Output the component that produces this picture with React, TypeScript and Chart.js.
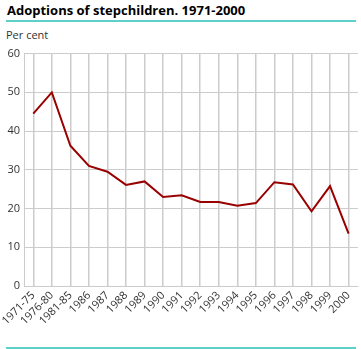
import React, { useEffect, useRef } from "react";
import { Chart, registerables } from "chart.js";

Chart.register(...registerables);

const categories = ["1971-75","1976-80","1981-85","1986","1987","1988","1989","1990","1991","1992","1993","1994","1995","1996","1997","1998","1999","2000"];
const adoptions = [44.5, 50, 36.2, 31, 29.5, 26.1, 27, 23, 23.4, 21.7, 21.7, 20.7, 21.4, 26.8, 26.2, 19.3, 25.8, 13.5];
const yTicks = [0, 10, 20, 30, 40, 50, 60];

const FONT = "'Open Sans', 'DejaVu Sans', sans-serif";

export default function App() {
  const ref = useRef<HTMLCanvasElement>(null);
  useEffect(() => {
    document.body.style.margin = "0";
    const chart = new Chart(ref.current!, {
      type: "line",
      data: {
        labels: categories,
        datasets: [{
          data: adoptions,
          borderColor: "#990000",
          borderWidth: 2,
          pointRadius: 0,
          tension: 0,
          fill: false,
        }],
      },
      options: {
        responsive: false,
        animation: false,
        layout: { padding: { left: 0, right: 3, top: 2, bottom: 0 } },
        plugins: { legend: { display: false }, tooltip: { enabled: false }, title: { display: false } },
        scales: {
          x: {
            offset: true,
            grid: { offset: false, color: "#cccccc", lineWidth: 1.5, drawTicks: false },
            border: { color: "#cccccc", width: 1 },
            ticks: {
              color: "#333333",
              font: { family: FONT, size: 11 },
              maxRotation: 45,
              minRotation: 45,
              autoSkip: false,
              padding: 3,
            },
            afterFit: (s: any) => { s.height = 54; },
          },
          y: {
            min: 0,
            max: 60,
            afterBuildTicks: (s: any) => { s.ticks = yTicks.map((v) => ({ value: v })); },
            grid: { color: "#cccccc", lineWidth: 1, drawTicks: false },
            border: { color: "#cccccc", width: 1 },
            ticks: { color: "#333333", font: { family: FONT, size: 11 }, padding: 4 },
            afterFit: (s: any) => { s.width = 24; },
          },
        },
      },
    });
    return () => chart.destroy();
  }, []);
  return (
    <div style={{ position: "relative", width: 361, height: 349, background: "#fff", overflow: "hidden" }}>
      <div style={{ position: "absolute", left: 7, top: 1, fontFamily: FONT, fontWeight: 700, fontSize: 13, color: "#000", whiteSpace: "nowrap" }}>
        Adoptions of stepchildren. 1971-2000
      </div>
      <div style={{ position: "absolute", left: 6, top: 20, width: 350, height: 2, background: "#5ecfc9" }} />
      <div style={{ position: "absolute", left: 6, top: 27, fontFamily: FONT, fontSize: 11, color: "#333" }}>Per cent</div>
      <canvas ref={ref} width={361} height={297} style={{ position: "absolute", left: 0, top: 43 }} />
      <div style={{ position: "absolute", left: 6, top: 347, width: 350, height: 2, background: "#5ecfc9" }} />
    </div>
  );
}
